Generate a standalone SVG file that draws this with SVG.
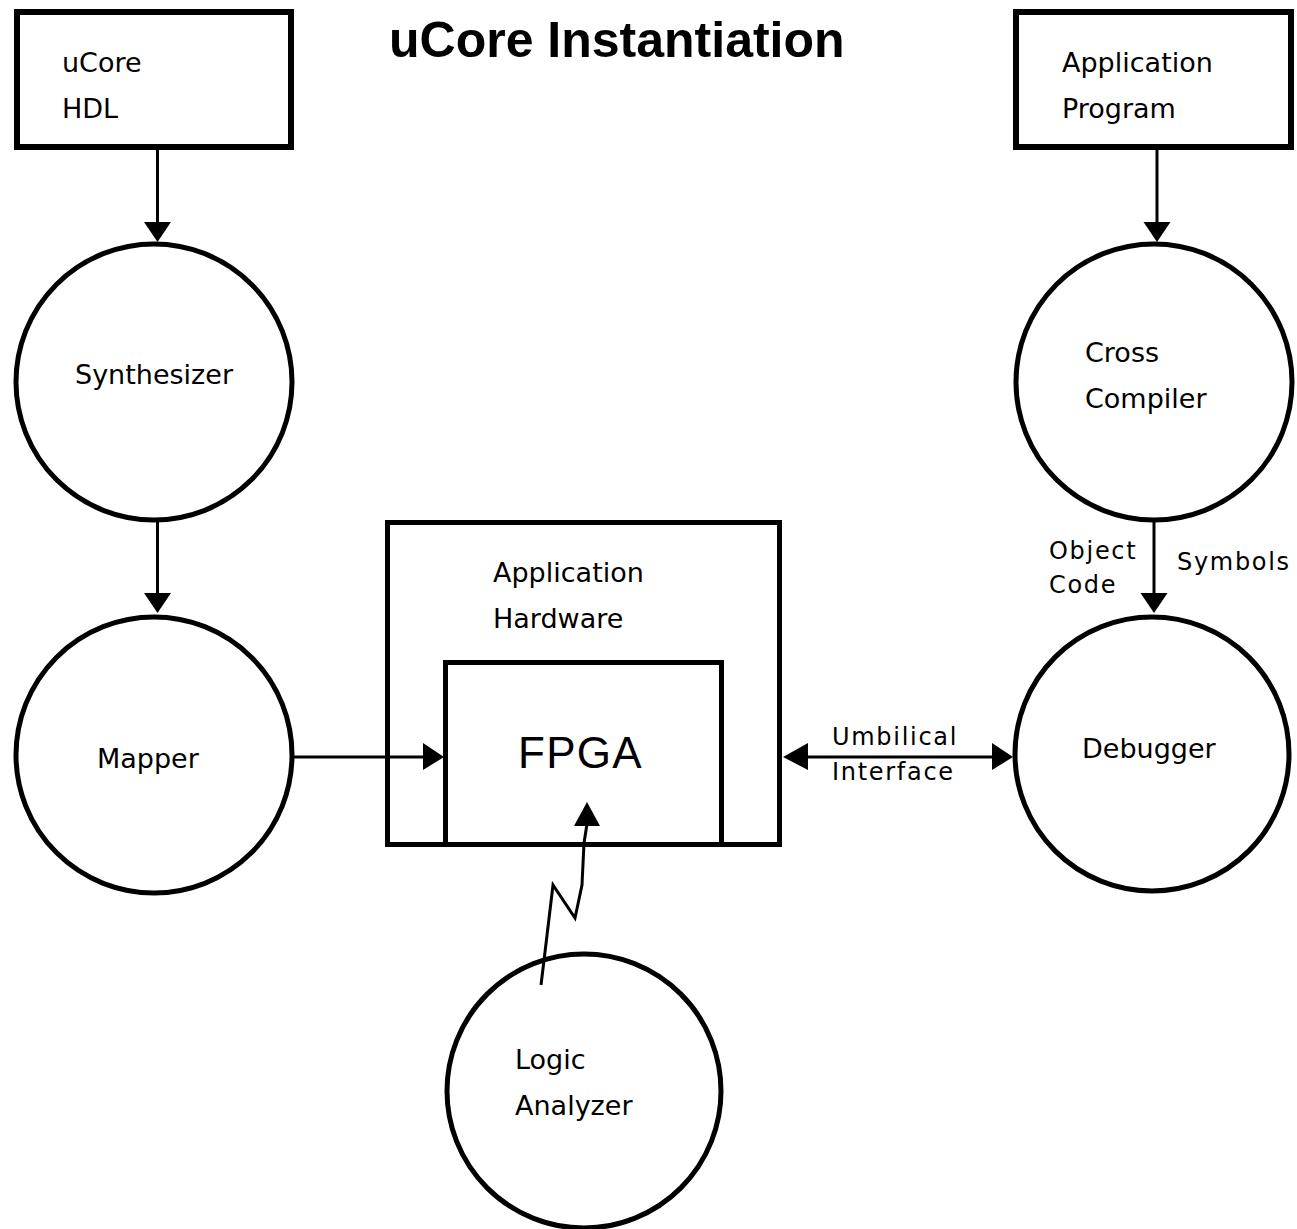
<svg xmlns="http://www.w3.org/2000/svg" width="1297" height="1229" viewBox="0 0 1297 1229">
  <style>
    .box { fill: #fff; stroke: #000; stroke-width: 6; }
    .frame { fill: none; stroke: #000; stroke-width: 5; }
    .proc { fill: #fff; stroke: #000; stroke-width: 5; }
    .wire { fill: none; stroke: #000; stroke-width: 3; }
    .head { fill: #000; stroke: none; }
    .lbl { font-family: "DejaVu Sans", "Liberation Sans", sans-serif; font-size: 27px; fill: #000; }
    .small { font-family: "DejaVu Sans", "Liberation Sans", sans-serif; font-size: 24px; letter-spacing: 1.7px; fill: #000; }
    .title { font-family: "Liberation Sans", Arial, sans-serif; font-size: 50px; font-weight: bold; fill: #000; }
    .chip { font-family: "Liberation Sans", Arial, sans-serif; font-size: 44px; letter-spacing: 1.3px; fill: #000; }
  </style>
  <rect width="1297" height="1229" fill="#fff"/>

  <text class="title" x="389" y="57">uCore Instantiation</text>

  <!-- sources -->
  <g id="ucore-hdl">
    <rect class="box" x="17" y="12" width="274" height="135"/>
    <text class="lbl" x="62" y="72">uCore</text>
    <text class="lbl" x="62" y="118">HDL</text>
  </g>
  <g id="application-program">
    <rect class="box" x="1016" y="12" width="275" height="135"/>
    <text class="lbl" x="1062" y="72">Application</text>
    <text class="lbl" x="1062" y="118">Program</text>
  </g>

  <!-- tool chain -->
  <g id="synthesizer">
    <circle class="proc" cx="154" cy="382" r="138"/>
    <text class="lbl" x="75" y="384">Synthesizer</text>
  </g>
  <g id="mapper">
    <circle class="proc" cx="154" cy="755" r="138"/>
    <text class="lbl" x="97" y="768">Mapper</text>
  </g>
  <g id="cross-compiler">
    <circle class="proc" cx="1154" cy="382" r="138"/>
    <text class="lbl" x="1085" y="362">Cross</text>
    <text class="lbl" x="1085" y="408">Compiler</text>
  </g>
  <g id="debugger">
    <circle class="proc" cx="1152" cy="754" r="137"/>
    <text class="lbl" x="1082" y="758">Debugger</text>
  </g>
  <g id="logic-analyzer">
    <circle class="proc" cx="584" cy="1091" r="137"/>
    <text class="lbl" x="515" y="1069">Logic</text>
    <text class="lbl" x="515" y="1115">Analyzer</text>
  </g>

  <!-- target board with the FPGA inside -->
  <g id="application-hardware">
    <rect class="frame" x="387.5" y="522.5" width="392" height="322"/>
    <text class="lbl" x="493" y="582">Application</text>
    <text class="lbl" x="493" y="628">Hardware</text>
  </g>
  <g id="fpga">
    <rect class="frame" x="445.5" y="662.5" width="276" height="182"/>
    <text class="chip" x="518" y="768">FPGA</text>
  </g>

  <!-- connectors -->
  <g id="connectors">
    <!-- uCore HDL -> Synthesizer -->
    <line class="wire" x1="157.5" y1="150" x2="157.5" y2="224"/>
    <polygon class="head" points="144,222 171,222 157.5,242"/>
    <!-- Synthesizer -> Mapper -->
    <line class="wire" x1="157.5" y1="520" x2="157.5" y2="595"/>
    <polygon class="head" points="144,593 171,593 157.5,613"/>
    <!-- Mapper -> FPGA -->
    <line class="wire" x1="292" y1="757" x2="425" y2="757"/>
    <polygon class="head" points="423,743 423,770 444,757"/>
    <!-- Application Program -> Cross Compiler -->
    <line class="wire" x1="1157" y1="150" x2="1157" y2="224"/>
    <polygon class="head" points="1143.5,222 1170.5,222 1157,242"/>
    <!-- Cross Compiler -> Debugger -->
    <line class="wire" x1="1154" y1="520" x2="1154" y2="595"/>
    <polygon class="head" points="1140.5,593 1167.5,593 1154,613"/>
    <text class="small" x="1049" y="559">Object</text>
    <text class="small" x="1049" y="593">Code</text>
    <text class="small" x="1177" y="570">Symbols</text>
    <!-- Umbilical interface, both ways -->
    <line class="wire" x1="806" y1="757" x2="994" y2="757"/>
    <polygon class="head" points="783,757 808,743 808,770"/>
    <polygon class="head" points="1013,757 992,743 992,770"/>
    <text class="small" x="832" y="745">Umbilical</text>
    <text class="small" x="832" y="780">Interface</text>
    <!-- Logic Analyzer probe into FPGA -->
    <polyline class="wire" points="541,985 545,952 553,885 575,918 582,885 584,843 587,824"/>
    <polygon class="head" points="574,826 600,826 587,802"/>
  </g>
</svg>
